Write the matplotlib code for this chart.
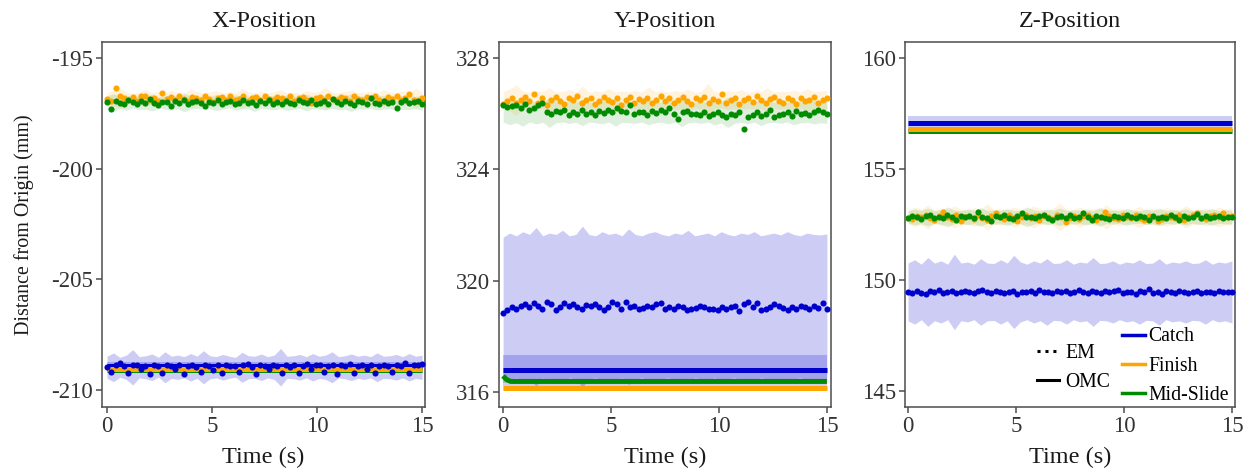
import numpy as np
import matplotlib
matplotlib.use('Agg')
from matplotlib import pyplot as plt
from matplotlib.lines import Line2D

plt.rcParams['font.family'] = ['Liberation Serif', 'DejaVu Serif']
plt.rcParams['axes.unicode_minus'] = False

# colours of the three phases
phases = ['Catch', 'Finish', 'Mid-Slide']
colors = {'Catch': '#0000CD', 'Finish': '#FFA500', 'Mid-Slide': '#008B00'}

# ---------------- X-Position ----------------
x_em_finish = [-196.85, -196.95, -196.35, -196.70, -196.80, -196.90, -196.75, -196.95, -196.70, -196.72,
               -196.88, -196.80, -196.95, -196.60, -196.85, -196.78, -196.92, -196.70, -196.85, -196.95,
               -196.75, -196.80, -196.90, -196.70, -196.85, -196.98, -196.80, -196.75, -196.88, -196.72,
               -196.90, -196.85, -196.70, -196.95, -196.80, -196.78, -196.90, -196.70, -196.85, -196.92,
               -196.75, -196.80, -196.88, -196.70, -196.95, -196.82, -196.78, -196.90, -197.05, -196.80,
               -196.75, -196.88, -196.70, -196.85, -196.92, -196.78, -196.80, -196.95, -196.72, -196.85,
               -196.90, -196.75, -196.80, -196.70, -196.88, -196.95, -196.78, -196.85, -196.72, -196.90,
               -196.80, -196.65, -196.88, -196.95, -196.82]
x_em_mid = [-197.00, -197.30, -196.95, -197.05, -197.10, -196.92, -197.00, -197.08, -196.95, -197.02,
            -196.85, -197.05, -197.12, -196.98, -197.00, -197.15, -196.95, -197.05, -196.90, -197.10,
            -197.00, -196.95, -197.05, -197.18, -196.98, -197.02, -196.90, -197.08, -197.00, -196.95,
            -197.10, -197.03, -196.92, -197.05, -197.00, -197.12, -196.95, -197.02, -196.88, -197.06,
            -197.00, -197.10, -196.95, -197.03, -197.08, -196.92, -197.00, -197.05, -196.90, -197.10,
            -197.02, -196.95, -197.06, -196.85, -197.00, -197.08, -196.96, -197.04, -197.12, -196.95,
            -197.00, -197.06, -196.80, -197.02, -197.10, -196.95, -197.05, -196.98, -197.25, -197.00,
            -196.92, -197.05, -197.00, -196.95, -197.08]
x_em_catch = [-208.95, -209.20, -208.85, -208.80, -208.90, -209.25, -208.88, -208.85, -209.05, -208.90,
              -209.30, -208.85, -208.92, -209.22, -208.88, -208.90, -209.05, -208.85, -209.28, -208.92,
              -208.88, -208.95, -209.20, -208.85, -208.90, -209.10, -208.88, -209.25, -208.85, -208.92,
              -208.90, -209.20, -208.85, -208.82, -208.95, -209.28, -208.88, -208.90, -209.05, -208.85,
              -208.92, -209.22, -208.88, -208.95, -208.85, -209.25, -208.90, -208.82, -209.05, -208.88,
              -208.85, -209.20, -208.92, -208.86, -209.30, -208.88, -208.90, -208.84, -209.22, -208.90,
              -208.88, -209.05, -208.85, -209.25, -208.90, -208.88, -208.92, -209.20, -208.85, -208.90,
              -208.80, -209.22, -208.88, -208.85, -208.82]
x_sd_finish = [0.25, 0.35, 0.45, 0.30, 0.22, 0.28, 0.40, 0.25, 0.30, 0.22, 0.35, 0.28, 0.25, 0.42, 0.30,
               0.24, 0.28, 0.35, 0.22, 0.30, 0.26, 0.45, 0.28, 0.25, 0.32, 0.24, 0.30, 0.38, 0.25, 0.28,
               0.22, 0.34, 0.28, 0.30, 0.50, 0.26, 0.24, 0.30, 0.36, 0.25, 0.28, 0.32, 0.24, 0.40, 0.28,
               0.26, 0.34, 0.25, 0.45, 0.30]
x_sd_mid = [0.30, 0.40, 0.28, 0.35, 0.25, 0.32, 0.30, 0.38, 0.26, 0.30, 0.34, 0.28, 0.42, 0.30, 0.26,
            0.32, 0.28, 0.36, 0.30, 0.25, 0.34, 0.30, 0.28, 0.40, 0.26, 0.30, 0.32, 0.28, 0.35, 0.30,
            0.26, 0.38, 0.28, 0.30, 0.34, 0.27, 0.32, 0.30, 0.40, 0.28, 0.30, 0.26, 0.34, 0.30, 0.28,
            0.36, 0.30, 0.32, 0.28, 0.35]
x_sd_catch = [0.50, 0.65, 0.45, 0.55, 0.80, 0.48, 0.52, 0.60, 0.45, 0.70, 0.50, 0.55, 0.48, 0.62, 0.50,
              0.75, 0.52, 0.48, 0.58, 0.50, 0.45, 0.68, 0.52, 0.50, 0.60, 0.48, 0.55, 0.85, 0.50, 0.52,
              0.58, 0.48, 0.62, 0.50, 0.55, 0.70, 0.48, 0.52, 0.60, 0.50, 0.55, 0.48, 0.65, 0.50, 0.52,
              0.58, 0.48, 0.62, 0.50, 0.55]
x_omc = {'Catch': -208.90, 'Finish': -209.05, 'Mid-Slide': -209.12}
x_omc_sd = {'Catch': 0.15, 'Finish': 0.08, 'Mid-Slide': 0.08}

# ---------------- Y-Position ----------------
y_em_finish = [326.35, 326.45, 326.55, 326.40, 326.50, 326.60, 326.45, 326.70, 326.40, 326.55,
               326.30, 326.50, 326.62, 326.45, 326.35, 326.55, 326.48, 326.65, 326.40, 326.50,
               326.58, 326.35, 326.45, 326.60, 326.50, 326.42, 326.55, 326.30, 326.48, 326.62,
               326.40, 326.52, 326.45, 326.58, 326.38, 326.50, 326.65, 326.45, 326.55, 326.40,
               326.50, 326.60, 326.45, 326.35, 326.55, 326.48, 326.62, 326.40, 326.52, 326.45,
               326.72, 326.40, 326.50, 326.58, 326.35, 326.48, 326.55, 326.42, 326.65, 326.50,
               326.40, 326.52, 326.60, 326.45, 326.38, 326.55, 326.48, 326.35, 326.58, 326.45,
               326.50, 326.62, 326.40, 326.48, 326.55]
y_em_mid = [326.30, 326.25, 326.28, 326.30, 326.22, 326.35, 326.15, 326.20, 326.30, 326.40,
            326.05, 326.00, 326.10, 326.05, 326.15, 325.95, 326.05, 326.00, 326.12, 326.00,
            326.05, 325.95, 326.10, 326.02, 326.15, 326.05, 326.20, 326.10, 326.05, 326.30,
            326.00, 326.08, 326.05, 325.95, 326.10, 326.02, 326.15, 326.05, 326.20, 326.00,
            325.82, 326.05, 326.10, 325.98, 326.00, 325.95, 326.05, 325.92, 326.00, 326.08,
            325.95, 325.88, 326.00, 325.95, 326.05, 325.45, 325.90, 325.95, 326.05, 325.92,
            326.00, 326.12, 325.90, 325.95, 325.98, 326.05, 325.92, 326.10, 325.98, 326.02,
            325.95, 326.08, 326.15, 326.05, 326.00]
y_em_catch = [318.85, 318.95, 319.05, 319.00, 319.10, 319.15, 319.05, 319.20, 319.10, 319.00,
              319.25, 319.15, 318.95, 319.05, 319.20, 319.10, 319.15, 319.05, 319.00, 319.12,
              319.08, 319.18, 319.05, 318.95, 319.05, 319.22, 319.15, 319.00, 319.25, 319.05,
              319.08, 319.00, 319.02, 319.10, 319.05, 319.15, 319.20, 318.98, 319.05, 319.00,
              319.10, 319.05, 318.95, 319.00, 319.02, 319.10, 319.05, 318.98, 319.00, 318.95,
              319.05, 319.00, 319.05, 319.10, 318.92, 319.15, 319.25, 319.05, 319.20, 318.95,
              318.98, 319.05, 319.15, 319.10, 319.02, 318.95, 319.05, 319.00, 319.08, 319.05,
              318.98, 319.10, 319.02, 319.20, 318.98]
y_sd_finish = [0.30, 0.40, 0.55, 0.32, 0.28, 0.35, 0.30, 0.45, 0.28, 0.32, 0.38, 0.30, 0.50, 0.28, 0.34,
               0.30, 0.42, 0.28, 0.32, 0.30, 0.36, 0.28, 0.48, 0.30, 0.32, 0.28, 0.35, 0.30, 0.40, 0.28,
               0.32, 0.60, 0.30, 0.28, 0.34, 0.30, 0.38, 0.28, 0.32, 0.30, 0.45, 0.28, 0.33, 0.30, 0.36,
               0.28, 0.42, 0.30, 0.32, 0.35]
y_sd_mid = [0.35, 0.45, 0.38, 0.50, 0.35, 0.42, 0.36, 0.55, 0.38, 0.35, 0.40, 0.36, 0.48, 0.35, 0.38,
            0.42, 0.35, 0.50, 0.36, 0.38, 0.40, 0.35, 0.45, 0.38, 0.36, 0.42, 0.35, 0.52, 0.38, 0.36,
            0.40, 0.35, 0.46, 0.38, 0.55, 0.40, 0.36, 0.42, 0.35, 0.48, 0.38, 0.36, 0.40, 0.35, 0.45,
            0.38, 0.36, 0.42, 0.38, 0.40]
y_sd_catch = [2.50, 2.65, 2.55, 2.70, 2.60, 2.85, 2.55, 2.65, 2.60, 2.75, 2.55, 2.60, 2.90, 2.60, 2.55,
              2.70, 2.60, 2.65, 2.55, 2.80, 2.60, 2.55, 2.65, 2.70, 2.60, 2.55, 2.65, 2.60, 2.75, 2.55,
              2.60, 2.65, 2.55, 2.70, 2.60, 2.55, 2.65, 2.60, 2.70, 2.55, 2.60, 2.65, 2.58, 2.70, 2.60,
              2.55, 2.65, 2.60, 2.58, 2.62]
y_omc = {'Catch': 316.78, 'Finish': 316.13, 'Mid-Slide': 316.38}
y_omc_sd = {'Catch': 0.55, 'Finish': 0.05, 'Mid-Slide': 0.06}
# mid-slide OMC settles during the first fraction of a second
y_mid_omc_t = [0.0, 0.15, 0.35, 15.0]
y_mid_omc = [316.58, 316.45, 316.38, 316.38]

# ---------------- Z-Position ----------------
z_em_finish = [152.80, 152.75, 152.90, 152.85, 152.95, 152.80, 152.70, 152.90, 153.05, 152.85,
               152.75, 152.95, 152.68, 152.85, 152.90, 152.75, 152.95, 152.80, 152.70, 152.88,
               153.00, 152.85, 152.75, 152.92, 152.80, 152.65, 152.85, 152.95, 152.78, 152.88,
               152.70, 152.90, 152.82, 152.75, 152.95, 152.85, 152.62, 152.80, 152.90, 152.75,
               152.88, 152.95, 152.80, 152.70, 152.85, 153.08, 152.90, 152.80, 152.75, 152.92,
               152.85, 152.78, 152.95, 152.80, 152.70, 152.88, 152.82, 152.65, 152.75, 152.90,
               152.85, 152.80, 152.95, 152.72, 152.85, 152.92, 153.00, 152.80, 152.75, 152.88,
               152.95, 152.82, 153.02, 152.85, 152.90]
z_em_mid = [152.80, 152.90, 152.85, 152.75, 152.88, 152.92, 152.80, 152.85, 152.78, 152.95,
            152.82, 152.70, 152.88, 152.85, 152.90, 152.80, 153.05, 152.85, 152.78, 152.65,
            152.88, 152.85, 152.92, 152.80, 152.75, 152.88, 153.00, 152.82, 152.85, 152.78,
            152.90, 152.95, 152.80, 152.72, 152.85, 152.88, 152.80, 152.92, 152.78, 152.85,
            153.00, 152.82, 152.70, 152.88, 152.85, 152.80, 152.75, 152.90, 152.85, 152.80,
            152.95, 152.82, 152.78, 152.88, 152.85, 152.70, 152.90, 152.80, 152.85, 152.78,
            152.92, 152.85, 152.72, 152.88, 152.80, 152.85, 152.98, 152.80, 152.88, 152.78,
            152.85, 152.90, 152.80, 152.82, 152.85]
z_em_catch = [149.45, 149.40, 149.50, 149.42, 149.38, 149.50, 149.45, 149.55, 149.40, 149.48,
              149.50, 149.42, 149.45, 149.52, 149.48, 149.40, 149.50, 149.55, 149.45, 149.42,
              149.50, 149.48, 149.40, 149.45, 149.52, 149.35, 149.48, 149.45, 149.50, 149.42,
              149.55, 149.45, 149.48, 149.40, 149.52, 149.45, 149.50, 149.42, 149.48, 149.55,
              149.45, 149.40, 149.50, 149.48, 149.42, 149.52, 149.45, 149.50, 149.55, 149.42,
              149.48, 149.45, 149.38, 149.50, 149.45, 149.58, 149.42, 149.48, 149.35, 149.50,
              149.45, 149.42, 149.52, 149.48, 149.40, 149.45, 149.50, 149.42, 149.48, 149.45,
              149.40, 149.50, 149.45, 149.48, 149.45]
z_sd_finish = [0.30, 0.45, 0.35, 0.55, 0.30, 0.40, 0.32, 0.50, 0.35, 0.30, 0.42, 0.35, 0.60, 0.32, 0.38,
               0.30, 0.45, 0.35, 0.32, 0.50, 0.35, 0.30, 0.40, 0.62, 0.35, 0.32, 0.45, 0.30, 0.38, 0.35,
               0.55, 0.32, 0.40, 0.30, 0.35, 0.48, 0.32, 0.38, 0.30, 0.42, 0.35, 0.30, 0.50, 0.35, 0.32,
               0.40, 0.30, 0.45, 0.35, 0.38]
z_sd_mid = [0.28, 0.35, 0.30, 0.40, 0.28, 0.32, 0.45, 0.30, 0.28, 0.36, 0.30, 0.42, 0.28, 0.32, 0.30,
            0.38, 0.28, 0.30, 0.45, 0.32, 0.28, 0.35, 0.30, 0.40, 0.28, 0.32, 0.30, 0.36, 0.28, 0.42,
            0.30, 0.32, 0.28, 0.38, 0.30, 0.28, 0.35, 0.30, 0.40, 0.28, 0.32, 0.30, 0.36, 0.28, 0.34,
            0.30, 0.38, 0.28, 0.32, 0.30]
z_sd_catch = [1.30, 1.45, 1.25, 1.55, 1.30, 1.40, 1.25, 1.70, 1.30, 1.35, 1.25, 1.50, 1.30, 1.28, 1.45,
              1.30, 1.65, 1.35, 1.25, 1.40, 1.30, 1.50, 1.28, 1.30, 1.45, 1.25, 1.35, 1.30, 1.55, 1.28,
              1.30, 1.40, 1.25, 1.35, 1.30, 1.45, 1.28, 1.30, 1.50, 1.25, 1.35, 1.30, 1.40, 1.28, 1.30,
              1.45, 1.25, 1.35, 1.30, 1.40]
z_omc = {'Catch': 157.07, 'Finish': 156.78, 'Mid-Slide': 156.72}
z_omc_sd = {'Catch': 0.32, 'Finish': 0.06, 'Mid-Slide': 0.06}

panels = [
    dict(title='X-Position', em={'Catch': x_em_catch, 'Finish': x_em_finish, 'Mid-Slide': x_em_mid},
         sd={'Catch': x_sd_catch, 'Finish': x_sd_finish, 'Mid-Slide': x_sd_mid},
         omc=x_omc, omc_sd=x_omc_sd, yticks=[-195, -200, -205, -210], ylim=(-210.77, -194.28),
         xlim=(-0.24, 15.14), rect=[0.0816, 0.1395, 0.2584, 0.7717]),
    dict(title='Y-Position', em={'Catch': y_em_catch, 'Finish': y_em_finish, 'Mid-Slide': y_em_mid},
         sd={'Catch': y_sd_catch, 'Finish': y_sd_finish, 'Mid-Slide': y_sd_mid},
         omc=y_omc, omc_sd=y_omc_sd, yticks=[316, 320, 324, 328], ylim=(315.46, 328.58),
         xlim=(-0.19, 15.19), rect=[0.3992, 0.1395, 0.2656, 0.7717]),
    dict(title='Z-Position', em={'Catch': z_em_catch, 'Finish': z_em_finish, 'Mid-Slide': z_em_mid},
         sd={'Catch': z_sd_catch, 'Finish': z_sd_finish, 'Mid-Slide': z_sd_mid},
         omc=z_omc, omc_sd=z_omc_sd, yticks=[145, 150, 155, 160], ylim=(144.28, 160.72),
         xlim=(-0.14, 15.14), rect=[0.724, 0.1395, 0.264, 0.7717]),
]

fig = plt.figure(figsize=(12.5, 4.73), dpi=100)
grey = '#4D4D4D'

for i, p in enumerate(panels):
    ax = fig.add_axes(p['rect'])
    # ribbons of the EM series (jagged, like the raw spread)
    for ph in phases:
        vals = np.array(p['em'][ph])
        sd = np.array(p['sd'][ph])
        tb = np.linspace(0, 15, len(sd))
        c = vals.mean()
        ax.fill_between(tb, c - sd, c + sd, color=colors[ph],
                        alpha=0.2 if ph == 'Catch' else 0.13, lw=0, zorder=1)
    # ribbons of the OMC series
    for ph in phases:
        m, s = p['omc'][ph], p['omc_sd'][ph]
        ax.fill_between([0, 15], [m - s] * 2, [m + s] * 2, color=colors[ph], alpha=0.2, lw=0, zorder=1)
    # OMC solid lines
    for ph in ['Mid-Slide', 'Catch', 'Finish']:
        if i == 1 and ph == 'Mid-Slide':
            ax.plot(y_mid_omc_t, y_mid_omc, color=colors[ph], lw=3.6, solid_capstyle='butt', zorder=3)
        else:
            m = p['omc'][ph]
            ax.plot([0, 15], [m, m], color=colors[ph], lw=3.6, solid_capstyle='butt', zorder=3)
    # EM dotted series
    for ph in ['Catch', 'Finish', 'Mid-Slide']:
        vals = p['em'][ph]
        t = np.linspace(0, 15, len(vals))
        ax.plot(t, vals, ls='none', marker='o', ms=4.4, mew=0, color=colors[ph], zorder=4)

    ax.set_xlim(*p['xlim'])
    ax.set_ylim(*p['ylim'])
    ax.set_xticks([0, 5, 10, 15])
    ax.set_yticks(p['yticks'])
    ax.tick_params(colors=grey, labelcolor='#333333', labelsize=16.5, length=4.5, width=1.1, pad=2)
    for sp in ax.spines.values():
        sp.set_color(grey)
        sp.set_linewidth(1.1)
    ax.set_title(p['title'], fontsize=17.5, color='#1a1a1a', pad=11)
    ax.set_xlabel('Time (s)', fontsize=17.5, color='#1a1a1a', labelpad=7)
    if i == 0:
        ax.set_ylabel('Distance from Origin (mm)', fontsize=14.4, color='#1a1a1a', labelpad=12)

    if i == 2:
        col_handles = [Line2D([], [], color=colors[ph], lw=2.5) for ph in phases]
        leg1 = ax.legend(col_handles, phases, loc='lower right', bbox_to_anchor=(1.006, -0.016),
                         frameon=False, fontsize=14.2, handlelength=1.17, handletextpad=0.2,
                         labelspacing=0.52, borderaxespad=0)
        ax.add_artist(leg1)
        lt_handles = [Line2D([], [], color='black', lw=2.2, ls=(0, (1, 1.6))),
                      Line2D([], [], color='black', lw=2.2)]
        ax.legend(lt_handles, ['EM', 'OMC'], loc='lower right', bbox_to_anchor=(0.645, 0.019),
                  frameon=False, fontsize=14.2, handlelength=1.1, handletextpad=0.3,
                  labelspacing=0.52, borderaxespad=0)

plt.savefig('out.png', dpi=100)
